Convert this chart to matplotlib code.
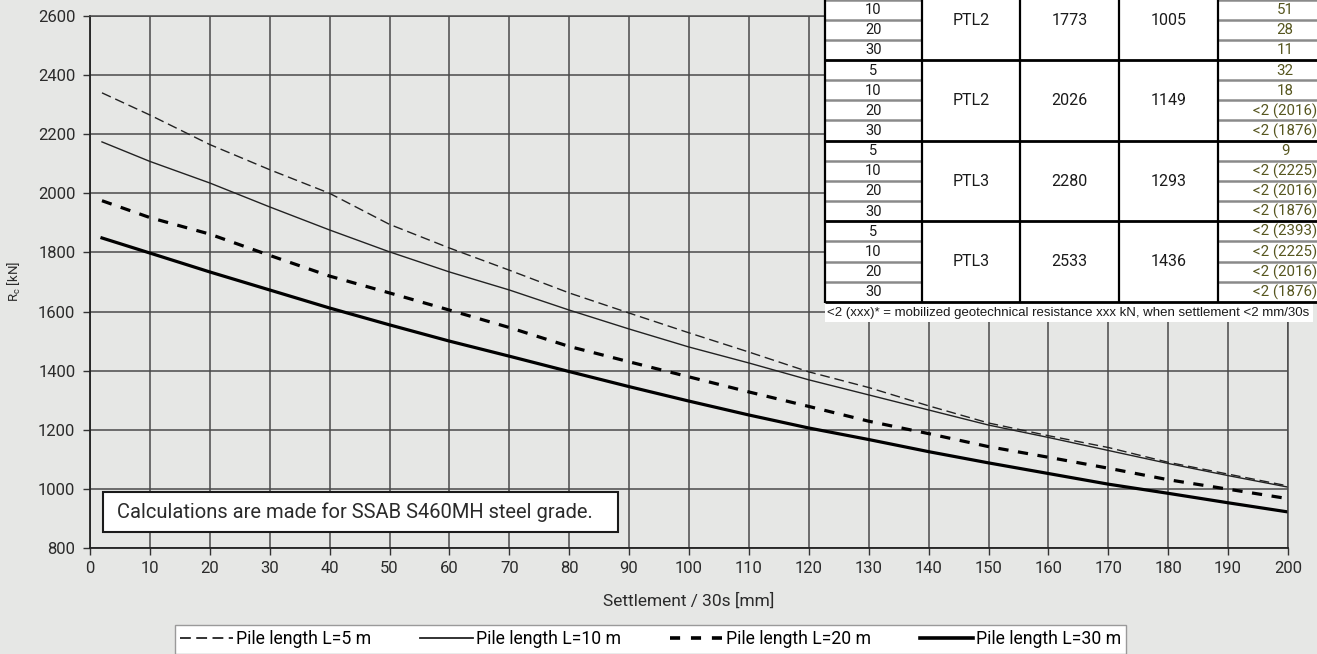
import matplotlib
matplotlib.use("Agg")
import matplotlib.pyplot as plt
from matplotlib.patches import Rectangle
from matplotlib.lines import Line2D

# ---- curve data: mobilized resistance vs. settlement ----
settlement = [2, 10, 20, 30, 40, 50, 60, 70, 80, 90, 100,
              110, 120, 130, 140, 150, 160, 170, 180, 190, 200]
rc_L5 = [2340, 2265, 2165, 2080, 2000, 1895, 1815, 1740, 1663, 1595, 1528,
         1463, 1396, 1343, 1281, 1223, 1180, 1140, 1090, 1050, 1010]
rc_L10 = [2174, 2108, 2035, 1954, 1876, 1802, 1734, 1673, 1605, 1541, 1480,
          1426, 1369, 1318, 1267, 1216, 1174, 1130, 1086, 1045, 1006]
rc_L20 = [1975, 1918, 1862, 1790, 1720, 1663, 1605, 1546, 1482, 1430, 1379,
          1328, 1279, 1229, 1187, 1143, 1107, 1070, 1031, 999, 967]
rc_L30 = [1849, 1798, 1734, 1673, 1612, 1555, 1500, 1449, 1397, 1346, 1297,
          1250, 1206, 1167, 1126, 1088, 1052, 1016, 985, 953, 922]

series_labels = ["Pile length L=5 m", "Pile length L=10 m",
                 "Pile length L=20 m", "Pile length L=30 m"]

x_ticks = list(range(0, 201, 10))
y_ticks = list(range(800, 2601, 200))

# ---- table data ----
pile_lengths = ["5", "10", "20", "30"]
tbl_class = ["PTL2", "PTL2", "PTL3", "PTL3"]
tbl_val_a = ["1773", "2026", "2280", "2533"]
tbl_val_b = ["1005", "1149", "1293", "1436"]
tbl_settle = [
    ["", "51", "28", "11"],
    ["32", "18", "<2 (2016)", "<2 (1876)"],
    ["9", "<2 (2225)", "<2 (2016)", "<2 (1876)"],
    ["<2 (2393)", "<2 (2225)", "<2 (2016)", "<2 (1876)"],
]
footnote = "<2 (xxx)* = mobilized geotechnical resistance xxx kN, when settlement <2 mm/30s"
note_text = "Calculations are made for SSAB S460MH steel grade."

W, H = 1317, 654
BG = "#e6e7e5"
plt.rcParams["font.family"] = ["Roboto", "DejaVu Sans"]

fig = plt.figure(figsize=(W / 100, H / 100), dpi=100, facecolor=BG)
ax = fig.add_axes([90 / W, 1 - 548 / H, (1288 - 90) / W, (548 - 16) / H])
ax.set_facecolor(BG)

ax.plot(settlement, rc_L5, color="#222222", lw=1.0, dashes=(7, 3.5), label=series_labels[0])
ax.plot(settlement, rc_L10, color="#222222", lw=1.0, label=series_labels[1])
ax.plot(settlement, rc_L20, color="black", lw=2.3, dashes=(3.2, 3.0), label=series_labels[2])
ax.plot(settlement, rc_L30, color="black", lw=2.3, label=series_labels[3])

ax.set_xlim(0, 200)
ax.set_ylim(800, 2600)
ax.set_xticks(x_ticks)
ax.set_yticks(y_ticks)
ax.grid(True, color="#4a4a4a", lw=1.1)
ax.set_axisbelow(True)
for side in ["top", "right"]:
    ax.spines[side].set_color("#4a4a4a")
    ax.spines[side].set_linewidth(1.1)
for side in ["left", "bottom"]:
    ax.spines[side].set_color("#222222")
    ax.spines[side].set_linewidth(1.3)
ax.tick_params(axis="both", labelsize=12, length=5, width=1.0, color="#333333",
               labelcolor="#2b2b2b", pad=5.5)
ax.tick_params(axis="x", pad=4.5)
ax.set_xlabel("Settlement / 30s [mm]", fontsize=12.5, color="#2b2b2b", labelpad=12)
ax.set_ylabel(r"R$_\mathregular{c}$ [kN]", fontsize=9.5, color="#2b2b2b", labelpad=11)

handles = [
    Line2D([], [], color="#222222", lw=1.3, dashes=(6, 3)),
    Line2D([], [], color="#222222", lw=1.3),
    Line2D([], [], color="black", lw=2.6, dashes=(2.8, 3.0)),
    Line2D([], [], color="black", lw=2.6),
]
fig.legend(handles, series_labels, loc="upper center",
           bbox_to_anchor=(0.494, 1 - 625 / H), borderaxespad=0, ncol=4,
           fontsize=12.7, frameon=True, fancybox=False, edgecolor="#9a9a9a",
           facecolor="white", framealpha=1, handlelength=3.0, handletextpad=0.15,
           columnspacing=2.8, borderpad=0.3)

# ---- overlay in pixel coordinates for the note box and the table ----
ov = fig.add_axes([0, 0, 1, 1], zorder=3)
ov.set_xlim(0, W)
ov.set_ylim(H, 0)
ov.axis("off")

ov.add_patch(Rectangle((103, 492), 515, 40, fc="white", ec="#1a1a1a", lw=1.5))
ov.text(117, 512.5, note_text, fontsize=14.5, color="#2b2b2b", va="center", ha="left")

col_edges = [825, 922, 1020, 1119, 1218, 1352]
row_h = 20.15
group_top0 = 60 - 4 * row_h
group_h = 4 * row_h
col_centers = [(col_edges[i] + col_edges[i + 1]) / 2 for i in range(4)] + [1285]

table_bottom = group_top0 + len(tbl_class) * group_h
ov.add_patch(Rectangle((col_edges[0], group_top0), col_edges[-1] - col_edges[0],
                       table_bottom - group_top0, fc="white", ec="none"))

for g in range(len(tbl_class)):
    top = group_top0 + g * group_h
    mid = top + group_h / 2
    for r, pl in enumerate(pile_lengths):
        yc = top + (r + 0.5) * row_h
        if r > 0:
            yl = top + r * row_h
            ov.plot([col_edges[0], col_edges[1]], [yl, yl], color="#8a8a8a", lw=1.8,
                    solid_capstyle="butt")
            ov.plot([col_edges[4], col_edges[5]], [yl, yl], color="#8a8a8a", lw=1.8,
                    solid_capstyle="butt")
        if yc < 0:
            continue  # row lies above the top edge of the figure
        ov.text(col_centers[0], yc + 0.5, pl, fontsize=10.5, color="#1a1a1a",
                ha="center", va="center")
        ov.text(col_centers[4], yc + 0.5, tbl_settle[g][r], fontsize=10.8,
                color="#56561f", ha="center", va="center")
    ov.text(col_centers[1], mid + 0.5, tbl_class[g], fontsize=11.5, color="#1a1a1a",
            ha="center", va="center")
    ov.text(col_centers[2], mid + 0.5, tbl_val_a[g], fontsize=11.5, color="#1a1a1a",
            ha="center", va="center")
    ov.text(col_centers[3], mid + 0.5, tbl_val_b[g], fontsize=11.5, color="#1a1a1a",
            ha="center", va="center")
    ov.plot([col_edges[0], col_edges[-1]], [top + group_h, top + group_h],
            color="black", lw=2.0, solid_capstyle="butt")

for xe in col_edges[:-1]:
    ov.plot([xe, xe], [group_top0, table_bottom + 1], color="black", lw=1.6,
            solid_capstyle="butt")

ov.add_patch(Rectangle((825, table_bottom + 1.5), 488, 19, fc="white", ec="none"))
ov.text(827, table_bottom + 11.5, footnote, fontsize=9.5, color="#1a1a1a",
        family=["Liberation Sans", "DejaVu Sans"], ha="left", va="center")

fig.savefig("out.png", dpi=100, facecolor=BG)
